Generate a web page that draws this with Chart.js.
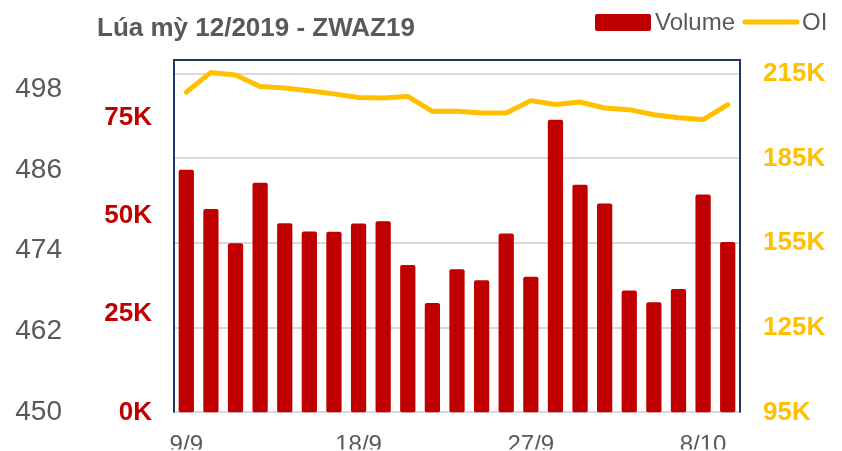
<!DOCTYPE html>
<html>
<head>
<meta charset="utf-8">
<script src="https://cdn.jsdelivr.net/npm/chart.js@4.4.1/dist/chart.umd.min.js"></script>
<style>
  body { margin: 0; background: #fff; }
  #wrap { width: 842px; height: 451px; position: relative; }
</style>
</head>
<body>
<div id="wrap"><canvas id="myChart"></canvas></div>
<script>
// dates (trading days), shown every 7th
const dates = ['9/9','10/9','11/9','12/9','13/9','16/9','17/9','18/9','19/9','20/9','23/9','24/9','25/9','26/9','27/9',
               '30/9','1/10','2/10','3/10','4/10','7/10','8/10','9/10'];
const volume = [61700, 51700, 43000, 58400, 48100, 46000, 45900, 48000, 48600, 37500, 27800, 36400,
                33600, 45500, 34500, 74400, 57900, 53100, 31000, 28000, 31400, 55400, 43300];
const oi = [208500, 215500, 214600, 210500, 210000, 209000, 207900, 206600, 206400, 207000, 201700, 201700,
            201100, 201100, 205500, 204100, 205000, 202900, 202300, 200500, 199400, 198800, 204100];
const priceTicks = [450, 462, 474, 486, 498];
const volumeTicks = [0, 25000, 50000, 75000];
const oiTicks = [95000, 125000, 155000, 185000, 215000];

const FONT = "'Liberation Sans', Arial, sans-serif";
const RED = '#C00000';
const YELLOW = '#FFC000';
const GRAY = '#595959';

const keepTicks = (list) => (scale) => {
    scale.ticks = list.map(v => ({ value: v }));
};
const kLabel = (v) => Math.round(v / 1000) + 'K';

// title, legend and plot border drawn on the canvas
const decorations = {
    id: 'decorations',
    afterDraw(chart) {
        const c = chart.ctx;
        const a = chart.chartArea;
        c.save();
        // plot frame
        c.strokeStyle = '#1F3864';
        c.lineWidth = 2;
        c.beginPath();
        c.moveTo(a.left, a.bottom);
        c.lineTo(a.left, a.top);
        c.lineTo(a.right, a.top);
        c.lineTo(a.right, a.bottom);
        c.stroke();

        // title
        c.fillStyle = GRAY;
        c.font = 'bold 26px ' + FONT;
        c.textBaseline = 'middle';
        c.textAlign = 'left';
        c.fillText('Lúa mỳ 12/2019 - ZWAZ19', 97, 29);

        // legend
        const ds = chart.data.datasets;
        c.fillStyle = ds[0].backgroundColor;
        c.beginPath();
        c.roundRect(595, 14, 56, 17, 2);
        c.fill();
        c.fillStyle = GRAY;
        c.font = '24px ' + FONT;
        c.fillText(ds[0].label, 655, 23);
        c.strokeStyle = ds[1].borderColor;
        c.lineWidth = 5;
        c.lineCap = 'round';
        c.beginPath();
        c.moveTo(745, 22);
        c.lineTo(797, 22);
        c.stroke();
        c.fillText(ds[1].label, 802, 23);
        c.restore();
    }
};

const ctx = document.getElementById('myChart').getContext('2d');
const myChart = new Chart(ctx, {
    data: {
        labels: dates,
        datasets: [{
            type: 'bar',
            label: 'Volume',
            data: volume,
            yAxisID: 'yVol',
            backgroundColor: RED,
            borderRadius: 2,
            borderSkipped: false,
            barPercentage: 0.62,
            categoryPercentage: 1,
            order: 1
        }, {
            type: 'line',
            label: 'OI',
            data: oi,
            yAxisID: 'yOI',
            borderColor: YELLOW,
            backgroundColor: YELLOW,
            borderWidth: 5,
            pointRadius: 0,
            tension: 0,
            borderJoinStyle: 'round',
            borderCapStyle: 'round',
            order: 0
        }]
    },
    options: {
        responsive: true,
        maintainAspectRatio: false,
        animation: false,
        layout: { padding: { top: 60, left: 0, right: 0, bottom: 0 } },
        plugins: {
            legend: { display: false },
            title: { display: false },
            tooltip: { enabled: false }
        },
        scales: {
            x: {
                offset: true,
                grid: { display: false },
                border: { display: true, color: '#D9D9D9', width: 2 },
                ticks: {
                    autoSkip: false,
                    maxRotation: 0,
                    padding: 11,
                    color: GRAY,
                    font: { family: FONT, size: 24 },
                    callback: (v, i) => (i % 7 === 0 ? dates[i] : '')
                },
                afterFit: (s) => { s.height = 37; }
            },
            yPrice: {
                position: 'left',
                weight: 1,
                min: 450,
                max: 502.3,
                grid: { display: false, drawTicks: false },
                border: { display: false },
                ticks: { color: GRAY, padding: 8, font: { family: FONT, size: 28 } },
                afterBuildTicks: keepTicks(priceTicks),
                afterFit: (s) => { s.width = 70; }
            },
            yVol: {
                position: 'left',
                weight: 0,
                min: 0,
                max: 89600,
                grid: { display: false, drawTicks: false },
                border: { display: false },
                ticks: {
                    color: RED, padding: 22,
                    font: { family: FONT, size: 26, weight: 'bold' },
                    callback: kLabel
                },
                afterBuildTicks: keepTicks(volumeTicks),
                afterFit: (s) => { s.width = 104; }
            },
            yOI: {
                position: 'right',
                min: 95000,
                max: 219900,
                grid: { color: '#D9D9D9', lineWidth: 2, drawTicks: false },
                border: { display: false },
                ticks: {
                    color: YELLOW, padding: 23,
                    font: { family: FONT, size: 26, weight: 'bold' },
                    callback: kLabel
                },
                afterBuildTicks: keepTicks(oiTicks),
                afterFit: (s) => { s.width = 102; }
            }
        }
    },
    plugins: [decorations]
});
</script>
</body>
</html>
